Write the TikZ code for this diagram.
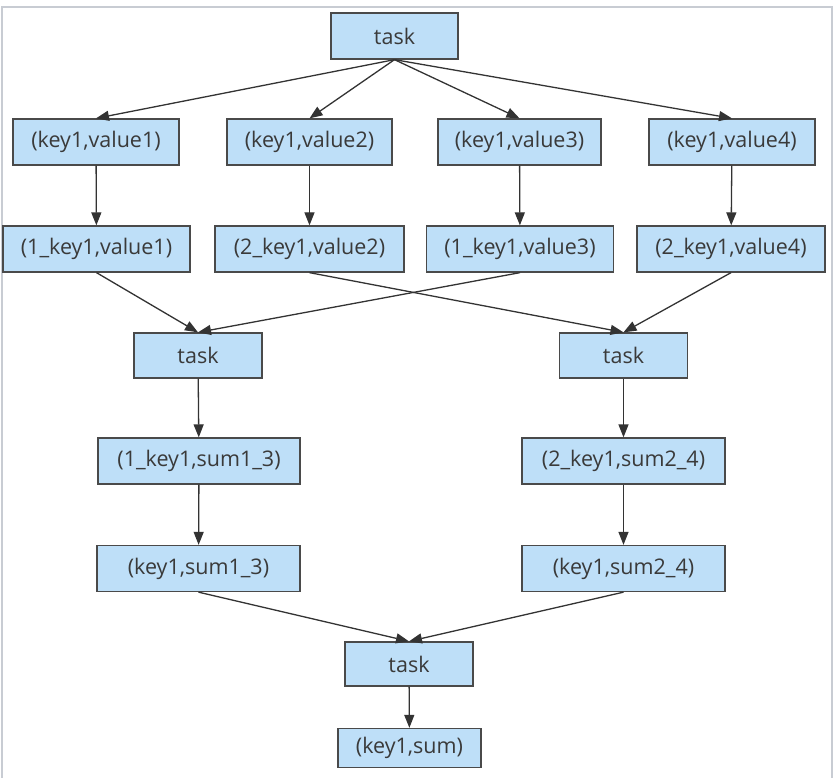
\documentclass[tikz,border=0pt]{standalone}
\usepackage{fontspec}
\setmainfont{Open Sans}
\usetikzlibrary{arrows.meta}
\definecolor{boxfill}{HTML}{BEDFF8}
\definecolor{boxline}{HTML}{4A4A4A}
\definecolor{txt}{HTML}{3A3A3A}
\definecolor{frame}{HTML}{C8CCD3}
\definecolor{edge}{HTML}{333333}
\tikzset{
  box/.style={draw=boxline, fill=boxfill, line width=1.3pt, inner sep=0pt,
    minimum height=46pt, text=txt, font=\fontsize{21.5}{24}\selectfont, anchor=center},
  conn/.style={draw=edge, line width=1.3pt, -{Triangle[length=13pt,width=10pt]}}
}
\begin{document}
\begin{tikzpicture}[x=1pt,y=-1pt]
\useasboundingbox (0,0) rectangle (835,778);
\draw[frame, line width=2pt] (1.5,778) -- (1.5,7) -- (831.5,7) -- (831.5,778);

\node[box, minimum width=127pt] (t0) at (394.5,36) {task};

\node[box, minimum width=166pt] (a1) at (96,142) {(key1,value1)};
\node[box, minimum width=165pt] (a2) at (309.5,142) {(key1,value2)};
\node[box, minimum width=163pt] (a3) at (519.5,142) {(key1,value3)};
\node[box, minimum width=166pt] (a4) at (732,142) {(key1,value4)};

\node[box, minimum width=187pt] (b1) at (96.5,249) {(1\_key1,value1)};
\node[box, minimum width=189pt] (b2) at (309.5,249) {(2\_key1,value2)};
\node[box, minimum width=187pt] (b3) at (520,249) {(1\_key1,value3)};
\node[box, minimum width=188pt] (b4) at (731,249) {(2\_key1,value4)};

\node[box, minimum width=128pt, minimum height=45pt] (tl) at (198,355.5) {task};
\node[box, minimum width=128pt, minimum height=45pt] (tr) at (623.5,355.5) {task};

\node[box, minimum width=202pt] (c1) at (199,461) {(1\_key1,sum1\_3)};
\node[box, minimum width=203pt] (c2) at (623.5,461) {(2\_key1,sum2\_4)};

\node[box, minimum width=203pt] (d1) at (198.5,568.5) {(key1,sum1\_3)};
\node[box, minimum width=203pt] (d2) at (623.5,568.5) {(key1,sum2\_4)};

\node[box, minimum width=128pt, minimum height=44pt] (tb) at (409,664) {task};
\node[box, minimum width=143pt, minimum height=39pt] (s) at (409.5,748) {(key1,sum)};

\foreach \n in {a1,a2,a3,a4} \draw[conn] (t0.south) -- (\n.north);
\draw[conn] (a1) -- (b1);
\draw[conn] (a2) -- (b2);
\draw[conn] (a3) -- (b3);
\draw[conn] (a4) -- (b4);
\draw[conn] (b1.south) -- (tl.north);
\draw[conn] (b3.south) -- (tl.north);
\draw[conn] (b2.south) -- (tr.north);
\draw[conn] (b4.south) -- (tr.north);
\draw[conn] (tl) -- (c1);
\draw[conn] (tr) -- (c2);
\draw[conn] (c1) -- (d1);
\draw[conn] (c2) -- (d2);
\draw[conn] (d1.south) -- (tb.north);
\draw[conn] (d2.south) -- (tb.north);
\draw[conn] (tb) -- (s);
\end{tikzpicture}
\end{document}
